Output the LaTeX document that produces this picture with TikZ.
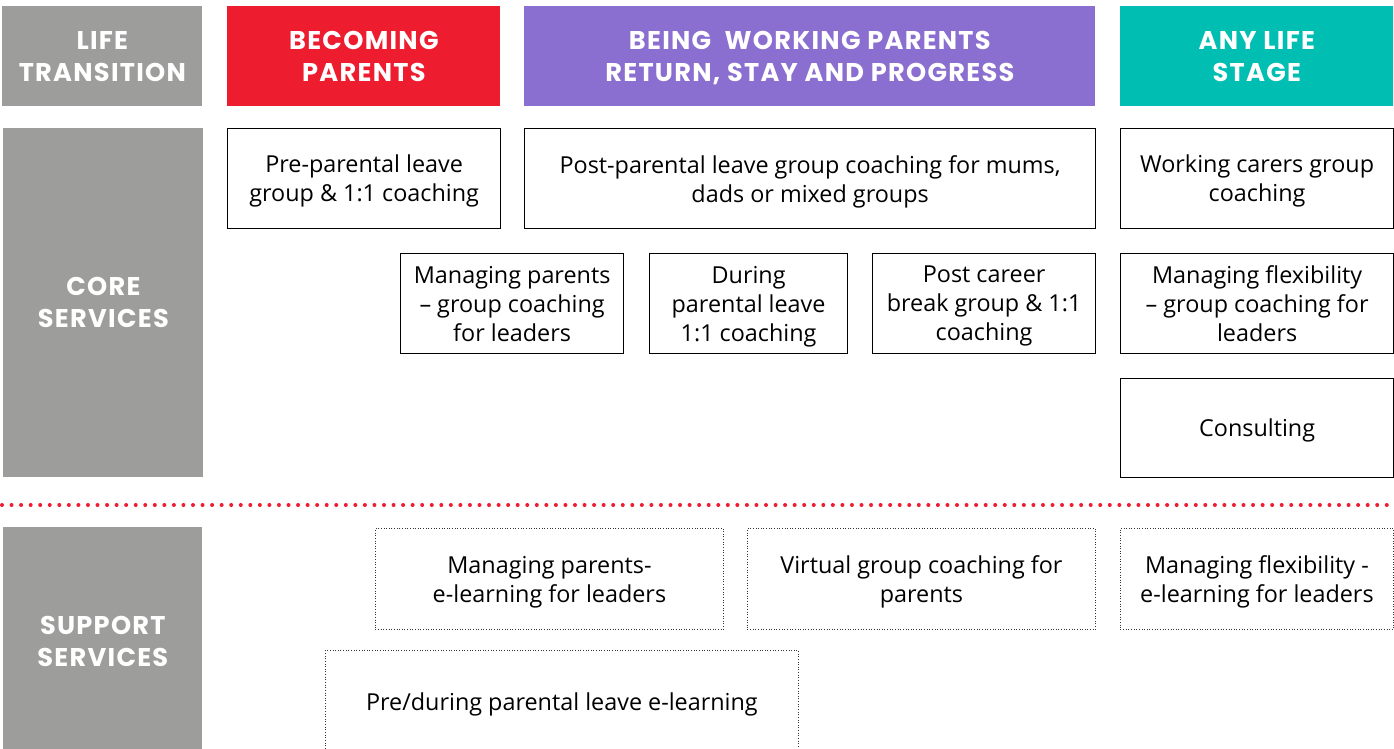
\documentclass[tikz,border=0pt]{standalone}
\usepackage{fontspec}
\setmainfont{Open Sans}
\newfontfamily\headfont[LetterSpace=5]{Poppins}
\usepackage{tikz}
\definecolor{slategrey}{RGB}{157,157,156}
\definecolor{parentred}{RGB}{237,28,46}
\definecolor{workpurple}{RGB}{139,111,208}
\definecolor{stageteal}{RGB}{0,191,178}
\definecolor{dotred}{RGB}{237,28,46}

\begin{document}
\begin{tikzpicture}[x=0.02cm,y=-0.02cm,
    header/.style={anchor=north west,inner sep=0pt,align=center,text=white,text depth=0pt,
        font=\headfont\bfseries\fontsize{14.6}{18.2}\selectfont},
    service/.style={anchor=north west,draw=black,line width=0.7pt,inner sep=0pt,
        align=center,text depth=0pt,font=\fontsize{13.3}{16.5}\selectfont},
    support/.style={service,draw=black!80,line width=0.5pt,densely dotted}
]
\useasboundingbox (0,0) rectangle (1394,749);
% life transition row
\node[header,fill=slategrey,minimum width=200*0.02cm,minimum height=100*0.02cm] (lifetrans) at (2,6) {LIFE\\TRANSITION};
\node[header,fill=parentred,minimum width=273*0.02cm,minimum height=100*0.02cm] (becoming) at (227,6) {BECOMING\\PARENTS};
\node[header,fill=workpurple,minimum width=571*0.02cm,minimum height=100*0.02cm] (working) at (524,6) {BEING\ \ WORKING PARENTS\\RETURN, STAY AND PROGRESS};
\node[header,fill=stageteal,minimum width=273*0.02cm,minimum height=100*0.02cm] (anystage) at (1120,6) {ANY LIFE\\STAGE};
% core services
\node[header,fill=slategrey,minimum width=200*0.02cm,minimum height=349*0.02cm] (core) at (3,128) {CORE\\SERVICES};
\node[service,minimum width=273*0.02cm,minimum height=100*0.02cm] (preleave) at (227,128) {Pre-parental leave\\group \& 1:1 coaching};
\node[service,minimum width=571*0.02cm,minimum height=100*0.02cm] (postleave) at (524,128) {Post-parental leave group coaching for mums,\\dads or mixed groups};
\node[service,minimum width=273*0.02cm,minimum height=100*0.02cm] (carers) at (1120,128) {Working carers group\\coaching};
\node[service,minimum width=223*0.02cm,minimum height=100*0.02cm] (mgrparents) at (400,253) {Managing parents\\-- group coaching\\for leaders};
\node[service,minimum width=198*0.02cm,minimum height=100*0.02cm] (during) at (649,253) {During\\parental leave\\1:1 coaching};
\node[service,minimum width=223*0.02cm,minimum height=100*0.02cm] (postbreak) at (872,253) {Post career\\break group \& 1:1\\coaching};
\node[service,minimum width=273*0.02cm,minimum height=100*0.02cm] (mgrflex) at (1120,253) {Managing flexibility\\-- group coaching for\\leaders};
\node[service,minimum width=273*0.02cm,minimum height=99*0.02cm] (consult) at (1120,378) {Consulting};
% divider
\coordinate (divleft) at (2,505);
\coordinate (divright) at (1394,505);
\draw[dotred,line width=4*0.02cm,line cap=round,dash pattern=on 0pt off 9.55*0.02cm] (divleft) -- (divright);
% support services
\node[header,fill=slategrey,minimum width=199*0.02cm,minimum height=228*0.02cm] (supportsvc) at (3,527) {SUPPORT\\SERVICES};
\node[support,minimum width=348*0.02cm,minimum height=101*0.02cm] (elmgrparents) at (375,528) {Managing parents-\\e-learning for leaders};
\node[support,minimum width=348*0.02cm,minimum height=101*0.02cm] (virtual) at (747,528) {Virtual group coaching for\\parents};
\node[support,minimum width=273*0.02cm,minimum height=101*0.02cm] (elmgrflex) at (1120,528) {Managing flexibility -\\e-learning for leaders};
\node[support,minimum width=473*0.02cm,minimum height=103*0.02cm] (elpreleave) at (325,650) {Pre/during parental leave e-learning};
\end{tikzpicture}
\end{document}
